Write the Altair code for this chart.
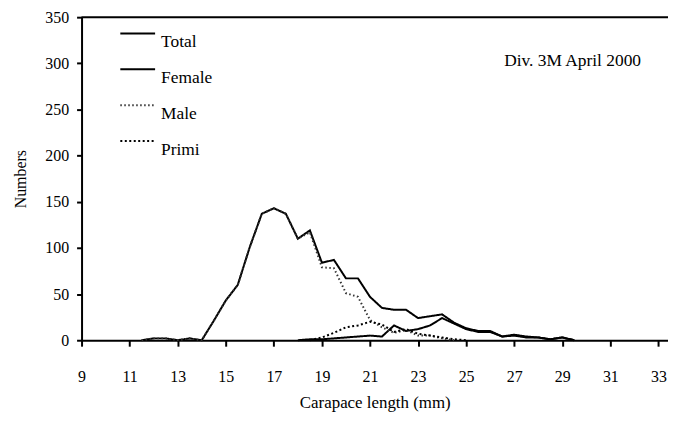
import altair as alt
import pandas as pd

# Carapace length classes (mm)
lengths = [11.5, 12, 12.5, 13, 13.5, 14, 14.5, 15, 15.5, 16, 16.5, 17, 17.5, 18,
           18.5, 19, 19.5, 20, 20.5, 21, 21.5, 22, 22.5, 23, 23.5, 24, 24.5, 25,
           25.5, 26, 26.5, 27, 27.5, 28, 28.5, 29, 29.5]

total = [0, 2, 2, 0, 2, 0, 21, 43, 60, 101, 137, 143, 137, 110,
         119, 84, 87, 67, 67, 47, 35, 33, 33, 24, 26, 28, 19, 13,
         10, 10, 4, 6, 4, 3, 1, 3, 0]

female = [None, None, None, None, None, None, None, None, None, None, None, None, None, 0,
          1, 1, 2, 3, 4, 5, 4, 16, 10, 12, 16, 24, 18, 12,
          9, 9, 4, 5, 3, 3, 1, 3, 0]

male = [0, 2, 2, 0, 2, 0, 21, 43, 60, 101, 137, 143, 137, 110,
        117, 79, 78, 51, 47, 22, 14, 8, 11, 5, 5, 2, 0, None,
        None, None, None, None, None, None, None, None, None]

primi = [None, None, None, None, None, None, None, None, None, None, None, None, None, None,
         0, 3, 8, 14, 16, 20, 17, 9, 12, 7, 5, 3, 1, 0,
         None, None, None, None, None, None, None, None, None]

series_names = ["Total", "Female", "Male", "Primi"]
x_ticks = [9, 11, 13, 15, 17, 19, 21, 23, 25, 27, 29, 31, 33]
y_ticks = [0, 50, 100, 150, 200, 250, 300, 350]
annotation = "Div. 3M April 2000"

rows = []
for name, vals in zip(series_names, [total, female, male, primi]):
    for L, v in zip(lengths, vals):
        if v is not None:
            rows.append({"length": L, "count": v, "series": name})
df = pd.DataFrame(rows)

FONT = "Liberation Serif"
W, H = 590, 325

lines = alt.Chart(df).mark_line(interpolate="linear").encode(
    x=alt.X("length:Q", scale=alt.Scale(domain=[9, 33.4], nice=False, zero=False),
            axis=alt.Axis(values=x_ticks, title="Carapace length (mm)", format="d")),
    y=alt.Y("count:Q", scale=alt.Scale(domain=[0, 350], nice=False),
            axis=alt.Axis(values=y_ticks, title="Numbers")),
    color=alt.Color("series:N", scale=alt.Scale(domain=series_names, range=["black", "black", "#333333", "black"]),
                    legend=alt.Legend(title=None)),
    strokeDash=alt.StrokeDash("series:N", scale=alt.Scale(domain=series_names,
                              range=[[1, 0], [1, 0], [1.5, 2.5], [2, 2.5]]),
                              legend=alt.Legend(title=None)),
    strokeWidth=alt.StrokeWidth("series:N", scale=alt.Scale(domain=series_names, range=[2, 2, 1.2, 2]),
                                legend=alt.Legend(title=None)),
    detail="series:N",
)

frame = alt.Chart(pd.DataFrame({"a": [0]})).mark_rule(color="black", strokeWidth=2).encode(
    x=alt.value(0), x2=alt.value(W), y=alt.value(0)
)

label = alt.Chart(pd.DataFrame({"t": [annotation]})).mark_text(
    font=FONT, fontSize=17.5, color="black", align="center", baseline="middle"
).encode(x=alt.value(494), y=alt.value(44), text="t:N")

chart = alt.layer(lines, frame, label).properties(
    width=W, height=H,
    autosize=alt.AutoSizeParams(type="none"),
    padding={"left": 74, "top": 8, "right": 0, "bottom": 74},
).configure(font=FONT).configure_view(stroke=None).configure_axis(
    grid=False, domainColor="black", domainWidth=2, tickColor="black", tickWidth=2,
    labelFont=FONT, labelFontSize=16, labelColor="black",
    titleFont=FONT, titleColor="black", titleFontWeight="normal",
).configure_axisX(
    tickSize=6, labelPadding=23, titlePadding=10, labelFlush=False, titleFontSize=17,
).configure_axisY(
    tickSize=5, labelPadding=8, titlePadding=16, titleFontSize=16,
).configure_legend(
    orient="none", legendX=38, legendY=-2, padding=0,
    symbolType="stroke", symbolSize=1225, labelFont=FONT, labelFontSize=17.5,
    labelColor="black", labelBaseline="top", labelOffset=5, rowPadding=-0.7,
)

chart.save("out.html", embed_options={"renderer": "svg", "actions": False})
